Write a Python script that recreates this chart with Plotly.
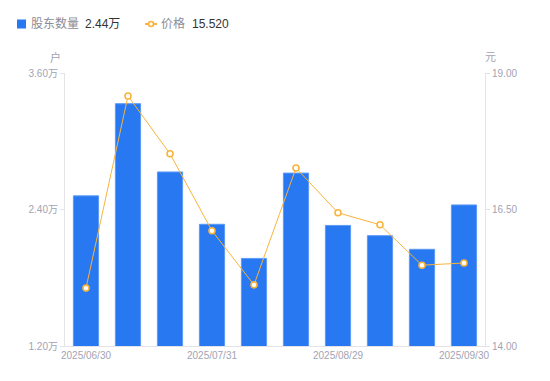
import plotly.graph_objects as go

dates = ["2025/06/30", "2025/07/10", "2025/07/20", "2025/07/31", "2025/08/10",
         "2025/08/20", "2025/08/29", "2025/09/10", "2025/09/20", "2025/09/30"]
holders = [2.52, 3.33, 2.73, 2.27, 1.97, 2.72, 2.26, 2.17, 2.05, 2.44]  # 万户
price = [15.06, 18.58, 17.52, 16.11, 15.12, 17.26, 16.44, 16.22, 15.48, 15.52]
tick_dates = ["2025/06/30", "2025/07/31", "2025/08/29", "2025/09/30"]
left_ticks = [1.2, 2.4, 3.6]
left_ticktext = ["1.20万", "2.40万", "3.60万"]
right_ticks = [14.0, 16.5, 19.0]
right_ticktext = ["14.00", "16.50", "19.00"]

BLUE = "#2878f2"
ORANGE = "#f8b43c"
GREY = "#a3a3b3"
FONT = "Arial, 'Liberation Sans', 'Noto Sans CJK SC', sans-serif"

fig = go.Figure()
fig.add_trace(go.Bar(
    x=dates, y=holders, name="股东数量",
    marker=dict(color=BLUE, line=dict(color="#5c9af6", width=1)),
    width=0.6, yaxis="y", showlegend=False,
))
fig.add_trace(go.Scatter(
    x=dates, y=price, name="价格", mode="lines+markers",
    line=dict(color=ORANGE, width=1),
    marker=dict(size=6, color="white", line=dict(color=ORANGE, width=1.6)),
    yaxis="y2", showlegend=False,
))

fig.update_layout(
    width=550, height=381,
    margin=dict(l=65, r=65, t=73, b=35, autoexpand=False),
    paper_bgcolor="white", plot_bgcolor="white",
    font=dict(family=FONT, size=10, color=GREY),
    bargap=0.4,
    xaxis=dict(
        type="category", categoryorder="array", categoryarray=dates,
        range=[-0.5, len(dates) - 0.5],
        tickmode="array", tickvals=tick_dates, ticktext=tick_dates,
        showline=True, linecolor="#e3e3e8", linewidth=1,
        showgrid=False, ticks="", tickfont=dict(size=10, color=GREY),
        zeroline=False, fixedrange=True, automargin=False,
    ),
    yaxis=dict(
        range=[1.2, 3.6], tickmode="array", tickvals=left_ticks, ticktext=left_ticktext,
        showline=True, linecolor="#e3e3e8", linewidth=1,
        ticks="outside", ticklen=4, tickcolor="#e3e3e8",
        showgrid=False, zeroline=False, tickfont=dict(size=10, color=GREY),
        automargin=False,
    ),
    yaxis2=dict(
        range=[14, 19], overlaying="y", side="right",
        tickmode="array", tickvals=right_ticks, ticktext=right_ticktext,
        showline=True, linecolor="#e3e3e8", linewidth=1,
        ticks="outside", ticklen=4, tickcolor="#e3e3e8",
        showgrid=False, zeroline=False, tickfont=dict(size=10, color=GREY),
        automargin=False,
    ),
    showlegend=False,
)

# axis unit titles
fig.add_annotation(text="户", xref="paper", yref="paper", x=-0.005, y=1.0, yshift=16,
                   showarrow=False, xanchor="right", yanchor="middle",
                   font=dict(size=11, color=GREY))
fig.add_annotation(text="元", xref="paper", yref="paper", x=1.0, y=1.0, xshift=-2, yshift=16,
                   showarrow=False, xanchor="left", yanchor="middle",
                   font=dict(size=11, color=GREY))

# custom legend with latest values
fig.add_shape(type="rect", xref="paper", yref="paper",
              x0=(17 - 65) / 420, x1=(26 - 65) / 420,
              y0=(346 - 28.5) / 273, y1=(346 - 19.5) / 273,
              fillcolor=BLUE, line=dict(width=0))
fig.add_annotation(text="股东数量", xref="paper", yref="paper",
                   x=(29 - 65) / 420, y=(346 - 24) / 273, xanchor="left", yanchor="middle",
                   showarrow=False, font=dict(size=12, color="#8c8c99"))
fig.add_annotation(text="2.44万", xref="paper", yref="paper",
                   x=(83 - 65) / 420, y=(346 - 24) / 273, xanchor="left", yanchor="middle",
                   showarrow=False, font=dict(size=12, color="#333333"))
fig.add_shape(type="line", xref="paper", yref="paper",
              x0=(145 - 65) / 420, x1=(157 - 65) / 420,
              y0=(346 - 24) / 273, y1=(346 - 24) / 273,
              line=dict(color=ORANGE, width=2))
fig.add_shape(type="circle", xref="paper", yref="paper",
              x0=(148.5 - 65) / 420, x1=(153.5 - 65) / 420,
              y0=(346 - 26.5) / 273, y1=(346 - 21.5) / 273,
              fillcolor="white", line=dict(color=ORANGE, width=1.6))
fig.add_annotation(text="价格", xref="paper", yref="paper",
                   x=(159 - 65) / 420, y=(346 - 24) / 273, xanchor="left", yanchor="middle",
                   showarrow=False, font=dict(size=12, color="#8c8c99"))
fig.add_annotation(text="15.520", xref="paper", yref="paper",
                   x=(190 - 65) / 420, y=(346 - 24) / 273, xanchor="left", yanchor="middle",
                   showarrow=False, font=dict(size=12, color="#333333"))

fig.write_html("out.html", config={"displayModeBar": False},
               post_script="document.body.style.margin='0';")
